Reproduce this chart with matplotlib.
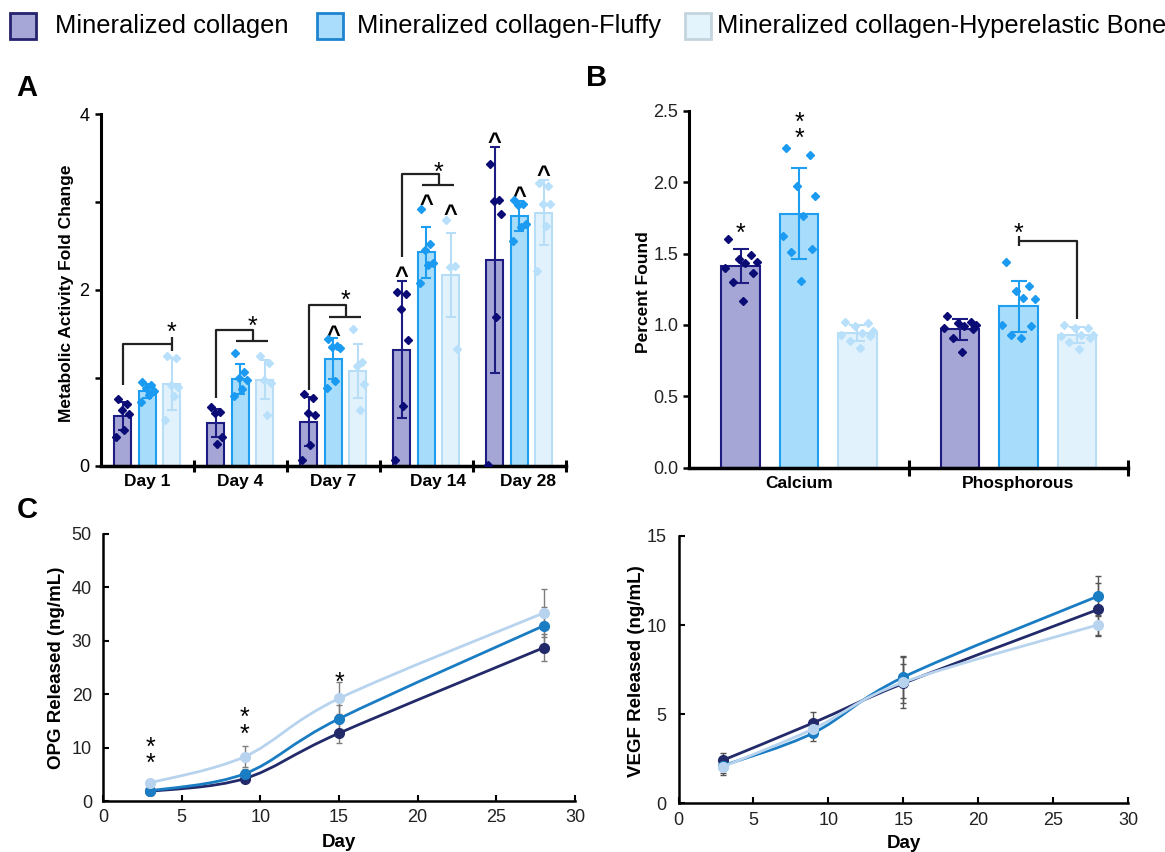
import numpy as np
import matplotlib
matplotlib.use('Agg')
import matplotlib.pyplot as plt
from matplotlib.path import Path
from matplotlib.patches import PathPatch, Rectangle

plt.rcParams['font.family'] = ['Liberation Sans', 'DejaVu Sans']

# ---------------- data ----------------
groups = ['Mineralized collagen', 'Mineralized collagen-Fluffy',
          'Mineralized collagen-Hyperelastic Bone']

# Panel A: metabolic activity fold change
days_A = ['Day 1', 'Day 4', 'Day 7', 'Day 14', 'Day 28']
a_mean_mc = [0.57, 0.49, 0.50, 1.32, 2.34]
a_mean_fl = [0.85, 0.99, 1.22, 2.43, 2.84]
a_mean_hb = [0.93, 0.98, 1.08, 2.17, 2.88]
a_sd_mc = [0.16, 0.16, 0.28, 0.78, 1.29]
a_sd_fl = [0.08, 0.17, 0.23, 0.29, 0.17]
a_sd_hb = [0.30, 0.22, 0.31, 0.48, 0.37]
a_pts_mc = [[0.76, 0.70, 0.63, 0.59, 0.41, 0.33],
            [0.67, 0.61, 0.60, 0.33, 0.25],
            [0.82, 0.77, 0.60, 0.58, 0.24, 0.06],
            [1.98, 1.95, 1.78, 1.43, 0.68, 0.07],
            [3.43, 3.03, 3.01, 2.86, 1.69, 0.01]]
a_pts_fl = [[0.95, 0.92, 0.88, 0.85, 0.81, 0.73],
            [1.28, 1.07, 1.00, 0.97, 0.87, 0.79],
            [1.44, 1.36, 1.35, 1.34, 0.96, 0.89],
            [2.92, 2.52, 2.45, 2.31, 2.29, 2.08],
            [3.02, 2.98, 2.97, 2.75, 2.72, 2.56]]
a_pts_hb = [[1.25, 1.23, 0.92, 0.90, 0.79, 0.52],
            [1.25, 1.17, 0.97, 0.94, 0.58],
            [1.56, 1.18, 1.13, 0.93, 0.63],
            [2.80, 2.27, 2.26, 1.33],
            [3.22, 3.18, 2.98, 2.98, 2.73, 2.22]]
# significance annotations in A
a_brk_base = [0.92, 0.77, 0.86, 2.37]
a_brk_top = [1.38, 1.55, 1.83, 3.32]
a_brk_low = [1.38, 1.42, 1.69, 3.19]
a_star_y = [1.60, 1.67, 1.96, 3.42]
a_caret = [(2, 1, 1.55), (3, 0, 2.22), (3, 1, 3.04), (3, 2, 2.92),
           (4, 0, 3.74), (4, 1, 3.13), (4, 2, 3.37)]

# Panel B: percent found
elements_B = ['Calcium', 'Phosphorous']
b_mean_mc = [1.41, 0.97]
b_mean_fl = [1.78, 1.13]
b_mean_hb = [0.945, 0.93]
b_sd_mc = [0.12, 0.073]
b_sd_fl = [0.32, 0.178]
b_sd_hb = [0.055, 0.054]
b_pts_mc = [[1.60, 1.49, 1.46, 1.44, 1.43, 1.40, 1.36, 1.30, 1.17],
            [1.06, 1.02, 1.01, 1.00, 0.99, 0.98, 0.97, 0.91, 0.81]]
b_pts_fl = [[2.24, 2.19, 1.97, 1.90, 1.76, 1.62, 1.53, 1.51, 1.31],
            [1.44, 1.27, 1.24, 1.18, 1.19, 1.00, 0.99, 0.93, 0.91]]
b_pts_hb = [[1.02, 1.01, 0.99, 0.96, 0.94, 0.93, 0.92, 0.89, 0.84],
            [1.00, 0.98, 0.98, 0.93, 0.93, 0.92, 0.91, 0.88, 0.83]]
b_star_mc = 1.69
b_star_fl = 2.36          # centre of the stacked pair
b_brk_top = 1.59
b_brk_tick = [1.55, 1.62]
b_brk_end = 1.04
b_brk_star = 1.69

# Panel C: release over time
days_C = [3, 9, 15, 28]
opg_mc = [1.8, 4.2, 12.7, 28.7]
opg_fl = [1.9, 5.1, 15.4, 32.8]
opg_hb = [3.4, 8.3, 19.2, 35.2]
opg_err_mc = [0.3, 0.6, 1.9, 2.5]
opg_err_fl = [0.3, 0.9, 2.5, 3.6]
opg_err_hb = [0.4, 2.0, 3.0, 4.5]
opg_star_y = [8.4, 14.0, 23.6]
opg_star_txt = ['*\n*', '*\n*', '*']
vegf_mc = [2.43, 4.52, 6.73, 10.88]
vegf_fl = [2.12, 3.95, 7.08, 11.63]
vegf_hb = [2.06, 4.18, 6.79, 10.02]
vegf_err_mc = [0.37, 0.60, 1.10, 1.50]
vegf_err_fl = [0.40, 0.47, 1.15, 1.10]
vegf_err_hb = [0.45, 0.40, 1.45, 0.56]

# ---------------- styles ----------------
face = ['#a5a6d5', '#a7dcfb', '#e1f2fd']
edge = ['#1c1c82', '#1e9ef0', '#b7ddf7']
dotc = ['#0b0b75', '#1a9af0', '#b9e0fa']
leg_face = ['#a6a7d6', '#a9ddfb', '#e4f4fd']
leg_edge = ['#25236e', '#1e84d0', '#c4d4df']
line_col = ['#222a6a', '#1a7cc2', '#b7d3ee']

W, H = 1165, 852
fig = plt.figure(figsize=(W / 100, H / 100), dpi=100)


def rect(l, t, r, b):
    return [l / W, 1 - b / H, (r - l) / W, (b - t) / H]


def mark(ax, x, y, s, fs, frac=0.58, **kw):
    ax.annotate(s, (x, y), xytext=(0, -frac * fs), textcoords='offset points',
                ha='center', va='baseline', fontsize=fs, **kw)


def mark2(ax, x, y, fs, gap=0.6):
    # two stacked asterisks as one text, centred on y
    ax.annotate('*\n*', (x, y), xytext=(0, 0), textcoords='offset points',
                ha='center', va='center', fontsize=fs, linespacing=gap)


jit = np.array([-0.30, 0.25, -0.05, 0.38, 0.10, -0.38, 0.30, -0.18, 0.05])
STAR = 18

# ---------------- legend ----------------
leg_x = [10, 317, 685]
txt_x = [55, 357, 717]
for i in range(3):
    fig.add_artist(Rectangle((leg_x[i] / W, 1 - 39 / H), 26 / W, 26 / H,
                             transform=fig.transFigure, facecolor=leg_face[i],
                             edgecolor=leg_edge[i], linewidth=2.0))
    fig.text(txt_x[i] / W, 1 - 33 / H, groups[i], fontsize=18.4, va='baseline',
             ha='left')

# ---------------- panel A ----------------
axA = fig.add_axes(rect(100.7, 114.3, 565.7, 465.7))
offs = [-0.265, 0.0, 0.265]
bw = 0.18
xa = np.arange(len(days_A))
means = [a_mean_mc, a_mean_fl, a_mean_hb]
sds = [a_sd_mc, a_sd_fl, a_sd_hb]
ptsA = [a_pts_mc, a_pts_fl, a_pts_hb]
for s in range(3):
    axA.bar(xa + offs[s], means[s], width=bw, color=face[s], edgecolor=edge[s],
            linewidth=1.5, zorder=2)
    axA.errorbar(xa + offs[s], means[s], yerr=sds[s], fmt='none', ecolor=edge[s],
                 elinewidth=1.5, capsize=3.6, capthick=1.5, zorder=3)
    for g in range(len(days_A)):
        v = np.array(ptsA[s][g])
        axA.plot(g + offs[s] + jit[:len(v)] * bw, v, 'D', color=dotc[s],
                 markersize=3.6, zorder=4)

# brackets
bk = dict(color='#222222', lw=1.6, zorder=5, solid_capstyle='butt')
g = 0
xl, xr = g + offs[0], g + offs[2]
axA.plot([xl, xl, xr], [a_brk_base[g], a_brk_top[g], a_brk_top[g]], **bk)
axA.plot([xr, xr], [a_brk_top[g] - 0.08, a_brk_top[g] + 0.08], **bk)
mark(axA, xr, a_star_y[g], '*', STAR)
for g in range(1, 4):
    xl = g + offs[0]
    xm = g + (offs[1] + offs[2]) / 2
    axA.plot([xl, xl, xm, xm], [a_brk_base[g], a_brk_top[g], a_brk_top[g],
                                a_brk_low[g]], **bk)
    axA.plot([g + offs[1] - 0.04, g + offs[2] + 0.03], [a_brk_low[g]] * 2, **bk)
    mark(axA, xm, a_star_y[g], '*', STAR)
for g, s, y in a_caret:
    mark(axA, g + offs[s], y, '^', 17, frac=0.52, fontweight='bold')

axA.set_xlim(-0.5, 4.5)
axA.set_ylim(0, 4)
for sp in ['top', 'right']:
    axA.spines[sp].set_visible(False)
axA.spines['left'].set_linewidth(2.2)
axA.spines['bottom'].set_linewidth(2.5)
axA.set_yticks([0, 2, 4])
axA.set_yticks([1, 3], minor=True)
axA.tick_params(axis='y', which='both', direction='out', length=4, width=1.8,
                labelsize=13, pad=4)
axA.set_xticks([0.5, 1.5, 2.5, 3.5, 4.5])
axA.set_xticklabels([])
axA.tick_params(axis='x', which='major', direction='inout', length=9, width=2.2)
axA.set_xticks(xa + np.array([0, 0, 0, 0.13, 0.1]), minor=True)
axA.set_xticklabels(days_A, minor=True, fontweight='bold', fontsize=12.5)
axA.tick_params(axis='x', which='minor', length=0, pad=6)
axA.text(-0.0746, 0.49, 'Metabolic Activity Fold Change', transform=axA.transAxes,
         rotation=90, ha='center', va='center', fontsize=12.5, fontweight='bold')
fig.text(27 / W, 1 - 88 / H, 'A', fontsize=21, fontweight='bold', ha='center',
         va='center')

# ---------------- panel B ----------------
axB = fig.add_axes(rect(689.3, 110.7, 1128.3, 467.7))
offsB = [-0.266, 0.0, 0.266]
bwB = 0.175
xb = np.arange(len(elements_B))
meansB = [b_mean_mc, b_mean_fl, b_mean_hb]
sdsB = [b_sd_mc, b_sd_fl, b_sd_hb]
ptsB = [b_pts_mc, b_pts_fl, b_pts_hb]
for s in range(3):
    axB.bar(xb + offsB[s], meansB[s], width=bwB, color=face[s], edgecolor=edge[s],
            linewidth=1.5, zorder=2)
    axB.errorbar(xb + offsB[s], meansB[s], yerr=sdsB[s], fmt='none',
                 ecolor=edge[s], elinewidth=1.5, capsize=6, capthick=1.5, zorder=3)
    for g in range(len(elements_B)):
        v = np.array(ptsB[s][g])
        axB.plot(g + offsB[s] + jit[:len(v)] * bwB * 1.1, v, 'D', color=dotc[s],
                 markersize=3.8, zorder=4)
mark(axB, offsB[0], b_star_mc, '*', STAR)
mark2(axB, offsB[1], b_star_fl, STAR)
x1, x2 = 1 + offsB[1], 1 + offsB[2]
axB.plot([x1, x2, x2], [b_brk_top, b_brk_top, b_brk_end], **bk)
axB.plot([x1, x1], b_brk_tick, **bk)
mark(axB, x1, b_brk_star, '*', STAR)

axB.set_xlim(-0.5, 1.5)
axB.set_ylim(0, 2.5)
for sp in ['top', 'right']:
    axB.spines[sp].set_visible(False)
axB.spines['left'].set_linewidth(2.2)
axB.spines['bottom'].set_linewidth(2.5)
axB.set_yticks(np.arange(0, 2.51, 0.5))
axB.set_yticklabels(['%.1f' % t for t in np.arange(0, 2.51, 0.5)])
axB.tick_params(axis='y', direction='out', length=4.3, width=1.8, labelsize=13,
                pad=3.5, labelcolor='#222222')
axB.set_xticks([0.5, 1.5])
axB.set_xticklabels([])
axB.tick_params(axis='x', which='major', direction='inout', length=12, width=2.2)
axB.set_xticks(xb, minor=True)
axB.set_xticklabels(elements_B, minor=True, fontweight='bold', fontsize=12.5)
axB.tick_params(axis='x', which='minor', length=0, pad=6)
axB.text(-0.105, 0.493, 'Percent Found', transform=axB.transAxes, rotation=90,
         ha='center', va='center', fontsize=12.5, fontweight='bold')
fig.text(597 / W, 1 - 78 / H, 'B', fontsize=21, fontweight='bold', ha='center',
         va='center')


# ---------------- panel C ----------------
def smooth_path(x, y):
    pts = np.column_stack([x, y]).astype(float)
    n = len(pts)
    verts = [pts[0]]
    codes = [Path.MOVETO]
    for i in range(n - 1):
        p0 = pts[i - 1] if i > 0 else pts[i]
        p1, p2 = pts[i], pts[i + 1]
        p3 = pts[i + 2] if i + 2 < n else pts[i + 1]
        verts += [p1 + (p2 - p0) / 6, p2 - (p3 - p1) / 6, p2]
        codes += [Path.CURVE4] * 3
    return Path(verts, codes)


def line_panel(ax, series, errs, ecol):
    for s in range(3):
        ax.errorbar(days_C, series[s], yerr=errs[s], fmt='none', ecolor=ecol,
                    elinewidth=1.0, capsize=2.5, capthick=1.0, zorder=1)
    for s in range(3):
        ax.add_patch(PathPatch(smooth_path(days_C, series[s]), fill=False,
                               edgecolor=line_col[s], lw=2.0, zorder=2 + s))
        ax.plot(days_C, series[s], 'o', color=line_col[s], markersize=7,
                zorder=2.5 + s)
    ax.set_xlim(0, 30)
    ax.set_xticks(range(0, 31, 5))
    for sp in ['top', 'right']:
        ax.spines[sp].set_visible(False)
    for sp in ['left', 'bottom']:
        ax.spines[sp].set_linewidth(1.8)
    ax.tick_params(direction='in', length=4, width=1.5, labelsize=13,
                   labelcolor='#222222')


axC1 = fig.add_axes(rect(103, 534, 575, 801))
line_panel(axC1, [opg_mc, opg_fl, opg_hb], [opg_err_mc, opg_err_fl, opg_err_hb],
           '#7d7d7d')
axC1.set_ylim(0, 50)
axC1.set_yticks(range(0, 51, 10))
axC1.tick_params(axis='y', pad=8)
axC1.tick_params(axis='x', pad=5.5)
for d, y, t in zip(days_C, opg_star_y, opg_star_txt):
    if t == '*':
        mark(axC1, d, y, '*', STAR)
    else:
        mark2(axC1, d, y, STAR)
axC1.text(-0.0975, 0.5, 'OPG Released (ng/mL)', transform=axC1.transAxes,
          rotation=90, ha='center', va='center', fontsize=13.5, fontweight='bold')
axC1.text(0.5, -0.157, 'Day', transform=axC1.transAxes, ha='center', va='center',
          fontsize=13.5, fontweight='bold')
fig.text(27 / W, 1 - 510 / H, 'C', fontsize=21, fontweight='bold', ha='center',
         va='center')

axC2 = fig.add_axes(rect(678.5, 536, 1128.3, 803.3))
line_panel(axC2, [vegf_mc, vegf_fl, vegf_hb],
           [vegf_err_mc, vegf_err_fl, vegf_err_hb], '#555555')
axC2.set_ylim(0, 15)
axC2.set_yticks(range(0, 16, 5))
axC2.tick_params(axis='y', pad=8.5)
axC2.tick_params(axis='x', pad=6.5)
axC2.text(-0.094, 0.496, 'VEGF Released (ng/mL)', transform=axC2.transAxes,
          rotation=90, ha='center', va='center', fontsize=13.5, fontweight='bold')
axC2.text(0.5, -0.15, 'Day', transform=axC2.transAxes, ha='center', va='center',
          fontsize=13.5, fontweight='bold')

fig.savefig('out.png', dpi=100)
